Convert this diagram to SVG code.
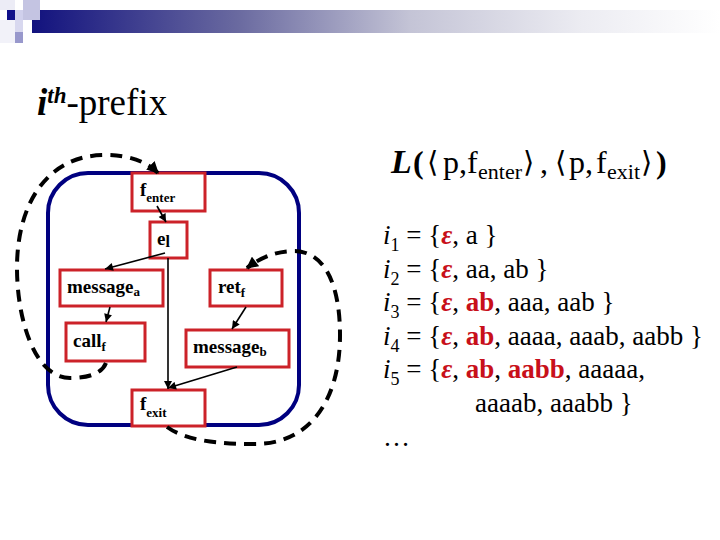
<svg xmlns="http://www.w3.org/2000/svg" width="720" height="540" viewBox="0 0 720 540">
<defs>
<linearGradient id="bar" x1="0" y1="0" x2="1" y2="0">
<stop offset="0" stop-color="#12127e"/>
<stop offset="0.3" stop-color="#6a6aa0"/>
<stop offset="0.55" stop-color="#c4c4d6"/>
<stop offset="0.8" stop-color="#ececf2"/>
<stop offset="1" stop-color="#ffffff"/>
</linearGradient>
<marker id="ah" viewBox="0 0 10 10" refX="10" refY="5" markerWidth="9" markerHeight="8" markerUnits="userSpaceOnUse" orient="auto">
<path d="M0,0 L10,5 L0,10 z" fill="#000"/>
</marker>
<marker id="ahd" viewBox="0 0 10 10" refX="9" refY="5" markerWidth="13" markerHeight="12" markerUnits="userSpaceOnUse" orient="auto">
<path d="M0,0 L10,5 L0,10 z" fill="#000"/>
</marker>
</defs>
<style>
.box{fill:#fff;stroke:#cc2229;stroke-width:3}
.nt{font-family:"Liberation Serif",serif;font-weight:bold;font-size:19px;fill:#000}
.ns{font-size:13px}
.solid{fill:none;stroke:#000;stroke-width:1.6;marker-end:url(#ah)}
.dash{fill:none;stroke:#000;stroke-width:4;stroke-dasharray:12 8;marker-end:url(#ahd)}
.ser{font-family:"Liberation Serif",serif;fill:#000}
.red{fill:#c8101a;font-weight:bold}
.ang{font-family:"DejaVu Sans",sans-serif;font-size:29px;font-weight:normal}
</style>
<rect width="720" height="540" fill="#fff"/>
<g id="header">
<rect x="32" y="10" width="688" height="23" fill="url(#bar)"/>
<rect x="0" y="0" width="15" height="10" fill="#ececf6"/>
<rect x="23" y="0" width="17" height="20" fill="#c4c4e2"/>
<rect x="7" y="10" width="8" height="10" fill="#10108a"/>
<rect x="15" y="10" width="8" height="10" fill="#d0d0ec"/>
<rect x="0" y="20" width="15" height="23" fill="#f2f2f9"/>
<rect x="15" y="20" width="8" height="12" fill="#d8d8ef"/>
<rect x="15" y="32" width="8" height="11" fill="#9898cc"/>
</g>
<text id="title" class="ser" x="37" y="115" font-size="37"><tspan font-weight="bold" font-style="italic">i</tspan><tspan font-weight="bold" font-style="italic" font-size="23" dy="-12">th</tspan><tspan dy="12">-prefix</tspan></text>
<rect id="frame" x="48" y="173" width="251" height="252" rx="40" fill="none" stroke="#000080" stroke-width="4"/>
<g id="f_enter"><rect class="box" x="132" y="173" width="73" height="38"/><text class="nt" x="140" y="196">f<tspan class="ns" dy="6">enter</tspan></text></g>
<g id="e_l"><rect class="box" x="150" y="222" width="37" height="36"/><text class="nt" x="157" y="245">e<tspan font-size="16" dy="2">l</tspan></text></g>
<g id="message_a"><rect class="box" x="60" y="270" width="103" height="36"/><text class="nt" x="67" y="293">message<tspan class="ns" dy="3">a</tspan></text></g>
<g id="ret_f"><rect class="box" x="210" y="270" width="72" height="36"/><text class="nt" x="218" y="293">ret<tspan class="ns" dy="4">f</tspan></text></g>
<g id="call_f"><rect class="box" x="66" y="323" width="79" height="38"/><text class="nt" x="73" y="347">call<tspan class="ns" dy="4">f</tspan></text></g>
<g id="message_b"><rect class="box" x="186" y="330" width="103" height="37"/><text class="nt" x="193" y="353">message<tspan class="ns" dy="3">b</tspan></text></g>
<g id="f_exit"><rect class="box" x="132" y="390" width="73" height="36"/><text class="nt" x="140" y="410">f<tspan class="ns" dy="7">exit</tspan></text></g>
<g id="connectors">
<line class="solid" x1="157" y1="206" x2="166" y2="222"/>
<line class="solid" x1="165" y1="253" x2="105" y2="269"/>
<line class="solid" x1="168" y1="258" x2="168" y2="389"/>
<line class="solid" x1="110" y1="307" x2="106" y2="322"/>
<line class="solid" x1="246" y1="307" x2="232" y2="329"/>
<line class="solid" x1="237" y1="367" x2="168" y2="388"/>
<path class="dash" d="M106,363 Q100,378 70,378 C35,378 17,320 17,268 C17,200 50,155 105,155 C128,155 146,161 158,173"/>
<path class="dash" d="M167,427 C185,440 215,444 255,444 C310,444 340,400 340,335 C340,285 325,252 295,251 C275,251 260,258 247,268"/>
</g>
<text id="L" class="ser" y="173" font-size="32"><tspan x="391" font-weight="bold" font-style="italic" font-size="34">L</tspan><tspan x="413" font-weight="bold">(</tspan><tspan x="427" y="172" class="ang">⟨</tspan><tspan x="443" y="173">p,</tspan><tspan x="467">f</tspan><tspan x="478" font-size="22" y="179">enter</tspan><tspan x="523" y="172" class="ang">⟩</tspan><tspan x="540" y="173">,</tspan><tspan x="555" y="172" class="ang">⟨</tspan><tspan x="569" y="173">p,</tspan><tspan x="596">f</tspan><tspan x="607" font-size="22" y="179">exit</tspan><tspan x="641" y="172" class="ang">⟩</tspan><tspan x="656" y="173" font-weight="bold">)</tspan></text>
<g id="sets" class="ser" font-size="27">
<text x="383" y="244"><tspan font-style="italic">i</tspan><tspan font-size="18" dy="7">1</tspan><tspan dy="-7"> = {</tspan><tspan class="red" font-style="italic">ε</tspan>, a }</text>
<text x="383" y="278"><tspan font-style="italic">i</tspan><tspan font-size="18" dy="7">2</tspan><tspan dy="-7"> = {</tspan><tspan class="red" font-style="italic">ε</tspan>, aa, ab }</text>
<text x="383" y="311"><tspan font-style="italic">i</tspan><tspan font-size="18" dy="7">3</tspan><tspan dy="-7"> = {</tspan><tspan class="red" font-style="italic">ε</tspan>, <tspan class="red">ab</tspan>, aaa, aab }</text>
<text x="383" y="345"><tspan font-style="italic">i</tspan><tspan font-size="18" dy="7">4</tspan><tspan dy="-7"> = {</tspan><tspan class="red" font-style="italic">ε</tspan>, <tspan class="red">ab</tspan>, aaaa, aaab, aabb }</text>
<text x="383" y="378"><tspan font-style="italic">i</tspan><tspan font-size="18" dy="7">5</tspan><tspan dy="-7"> = {</tspan><tspan class="red" font-style="italic">ε</tspan>, <tspan class="red">ab</tspan>, <tspan class="red">aabb</tspan>, aaaaa,</text>
<text x="475" y="412">aaaab, aaabb }</text>
<text x="383" y="446">…</text>
</g>
</svg>
